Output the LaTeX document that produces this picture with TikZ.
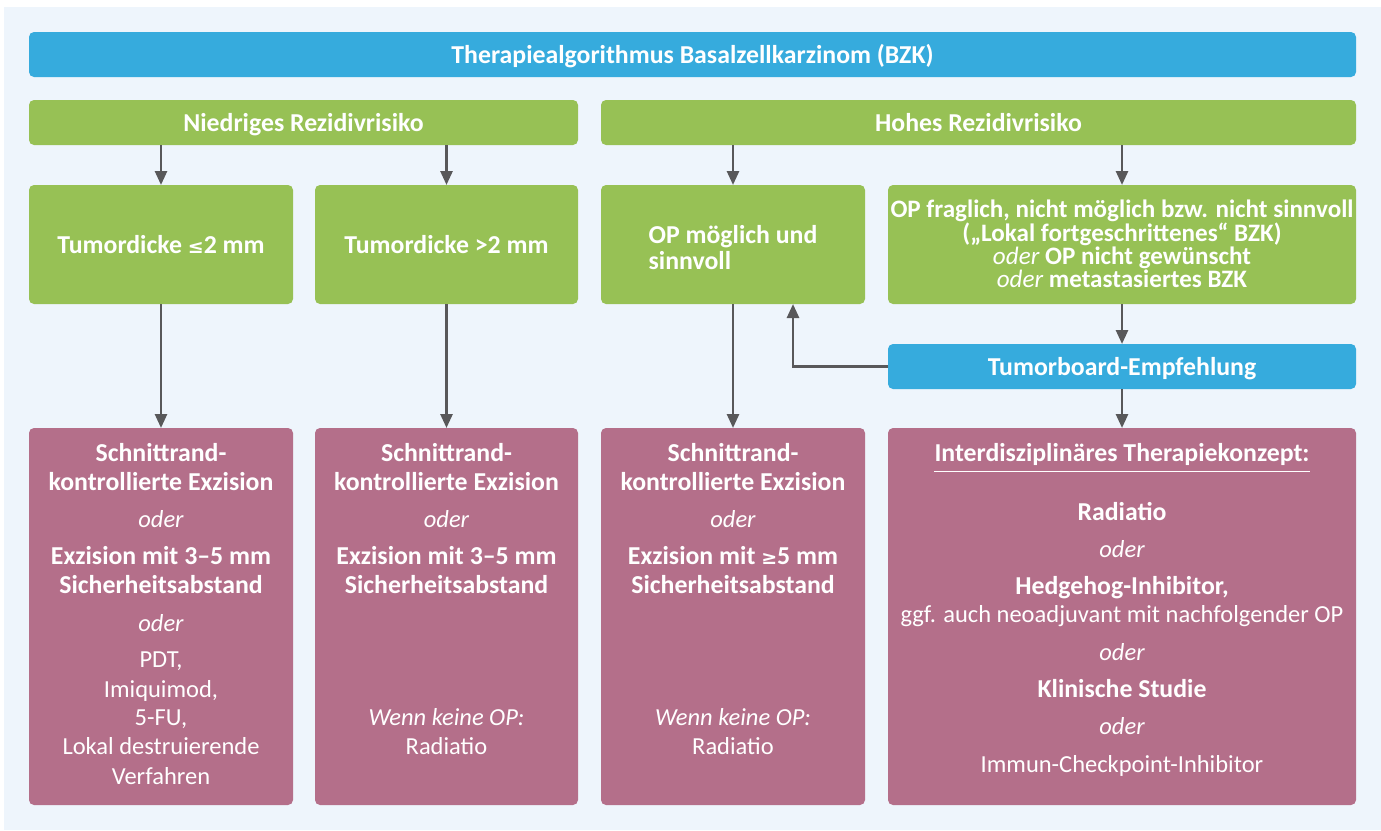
\documentclass[tikz,border=0pt]{standalone}
\usepackage{fontspec}
\setmainfont{Carlito}
\newfontfamily\symfont{DejaVu Sans}
\usetikzlibrary{arrows.meta}
\definecolor{cblue}{HTML}{36ABDD}
\definecolor{cgreen}{HTML}{97C155}
\definecolor{cpink}{HTML}{B46F8A}
\definecolor{cbg}{HTML}{EEF5FC}
\definecolor{carrow}{HTML}{58585A}
\newcommand\bsz{\bfseries\fontsize{25.8}{29.3}\selectfont}
\newcommand\symle{{\symfont\bfseries\fontsize{19}{24}\selectfont ≤}}
\newcommand\symge{{\symfont\bfseries\fontsize{19}{24}\selectfont ≥}}
\begin{document}
\begin{tikzpicture}[x=1pt,y=-1pt,
  box/.style={rounded corners=5pt, inner sep=0pt, outer sep=0pt, draw=none},
  bluebox/.style={box, fill=cblue},
  greenbox/.style={box, fill=cgreen},
  pinkbox/.style={box, fill=cpink},
  lbl/.style={anchor=base, inner sep=0pt, text=white, font=\fontsize{24.5}{29.3}\selectfont},
  blbl/.style={lbl, font=\bsz},
  arr/.style={draw=carrow, line width=2.7pt, -{Triangle[length=14pt,width=12pt]}},
]
\useasboundingbox (0,0) rectangle (1381,830);
\fill[white] (0,0) rectangle (1381,830);
\fill[cbg] (4,7) rectangle (1381,830);

% boxes
\node[bluebox, minimum width=1327pt, minimum height=45pt] (title) at (692.5,54.5) {};
\node[greenbox, minimum width=549pt, minimum height=45pt] (low) at (303.5,122.5) {};
\node[greenbox, minimum width=755pt, minimum height=45pt] (high) at (978.5,122.5) {};
\node[greenbox, minimum width=264pt, minimum height=119pt] (t1) at (161,244.5) {};
\node[greenbox, minimum width=263pt, minimum height=119pt] (t2) at (446.5,244.5) {};
\node[greenbox, minimum width=264pt, minimum height=119pt] (t3) at (733,244.5) {};
\node[greenbox, minimum width=468pt, minimum height=119pt] (t4) at (1122,244.5) {};
\node[bluebox, minimum width=468pt, minimum height=45pt] (tb) at (1122,366.5) {};
\node[pinkbox, minimum width=264pt, minimum height=377pt] (p1) at (161,616.5) {};
\node[pinkbox, minimum width=263pt, minimum height=377pt] (p2) at (446.5,616.5) {};
\node[pinkbox, minimum width=264pt, minimum height=377pt] (p3) at (733,616.5) {};
\node[pinkbox, minimum width=468pt, minimum height=377pt] (p4) at (1122,616.5) {};

% header texts
\node[blbl] (titlet) at (692.5,63.5) {Therapiealgorithmus Basalzellkarzinom (BZK)};
\node[blbl] (lowt) at (303.5,131.5) {Niedriges Rezidivrisiko};
\node[blbl] (hight) at (978.5,131.5) {Hohes Rezidivrisiko};
\node[blbl] (t1t) at (161,253.5) {Tumordicke \symle2 mm};
\node[blbl] (t2t) at (446.5,253.5) {Tumordicke >2 mm};
\node[blbl] (t3a) at (733,243) {OP möglich und};
\node[blbl, anchor=base west] (t3b) at ([yshift=-26pt]t3a.base west) {sinnvoll};
\node[blbl, anchor=center, align=center, font=\bfseries\fontsize{25.1}{20.8}\selectfont] (t4t) at (1122,243.5)
  {OP fraglich, nicht möglich bzw. nicht sinnvoll\\
   („Lokal fortgeschrittenes“ BZK)\\
   {\mdseries\itshape oder} OP nicht gewünscht\\
   {\mdseries\itshape oder} metastasiertes BZK};
\node[blbl] (tbt) at (1122,375.5) {Tumorboard-Empfehlung};

% pink column 1
\foreach \y/\txt [count=\i] in {
  461.7/{\bsz Schnittrand-},
  490/{\bsz kontrollierte Exzision},
  527/{\itshape oder},
  564/{\bsz Exzision mit 3–5 mm},
  593/{\bsz Sicherheitsabstand},
  631/{\itshape oder},
  667/{PDT,},
  697/{Imiquimod,},
  725.5/{5-FU,},
  754.5/{Lokal destruierende},
  784/{Verfahren}}
  \node[lbl] (pa\i) at (161,\y) {\txt};

% pink column 2
\foreach \y/\txt [count=\i] in {
  461.7/{\bsz Schnittrand-},
  490/{\bsz kontrollierte Exzision},
  527/{\itshape oder},
  564/{\bsz Exzision mit 3–5 mm},
  593/{\bsz Sicherheitsabstand},
  725.5/{\itshape Wenn keine OP:},
  754.5/{Radiatio}}
  \node[lbl] (pb\i) at (446.5,\y) {\txt};

% pink column 3
\foreach \y/\txt [count=\i] in {
  461.7/{\bsz Schnittrand-},
  490/{\bsz kontrollierte Exzision},
  527/{\itshape oder},
  564/{\bsz Exzision mit \symge5 mm},
  593/{\bsz Sicherheitsabstand},
  725.5/{\itshape Wenn keine OP:},
  754.5/{Radiatio}}
  \node[lbl] (pc\i) at (733,\y) {\txt};

% pink column 4
\node[blbl] (it) at (1122,461.7) {Interdisziplinäres Therapiekonzept:};
\draw[white, line width=1.3pt] ([yshift=-10pt]it.base west) -- ([yshift=-10pt]it.base east);
\foreach \y/\txt [count=\i] in {
  520/{\bsz Radiatio},
  557/{\itshape oder},
  594/{\bsz Hedgehog-Inhibitor,},
  622.7/{ggf. auch neoadjuvant mit nachfolgender OP},
  660/{\itshape oder},
  697/{\bsz Klinische Studie},
  734/{\itshape oder},
  772/{Immun-Checkpoint-Inhibitor}}
  \node[lbl] (pd\i) at (1122,\y) {\txt};

% connectors
\draw[arr] (low.south -| t1.north) -- (t1.north);
\draw[arr] (low.south -| t2.north) -- (t2.north);
\draw[arr] (high.south -| t3.north) -- (t3.north);
\draw[arr] (high.south -| t4.north) -- (t4.north);
\draw[arr] (t1.south) -- (p1.north);
\draw[arr] (t2.south) -- (p2.north);
\draw[arr] (t3.south) -- (p3.north);
\draw[arr] (t4.south) -- (tb.north);
\draw[arr] (tb.south) -- (p4.north);
\coordinate (fb) at (793,304);
\draw[arr] (tb.west) -| (fb);
\end{tikzpicture}
\end{document}
